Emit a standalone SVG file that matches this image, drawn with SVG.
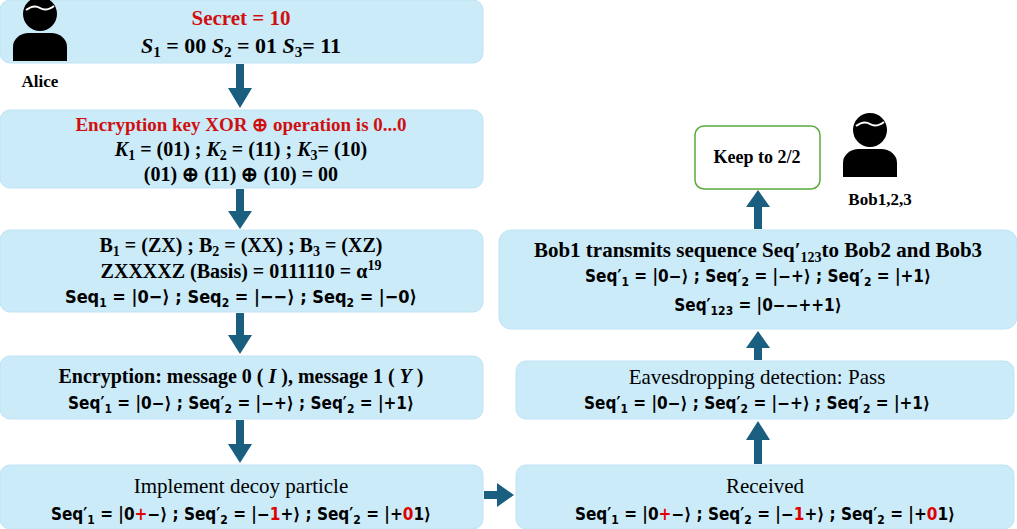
<svg xmlns="http://www.w3.org/2000/svg" width="1017" height="529" viewBox="0 0 1017 529">
<defs>
<style>
.box{fill:#cbebf9;stroke:#bfe3f4;stroke-width:1}
.t{font-family:"Liberation Serif",serif;font-weight:bold;fill:#000;text-anchor:middle}
.r{fill:#d01010}
.n{font-family:"Liberation Serif",serif;fill:#000;text-anchor:middle}
.red{fill:#e00000}
.ar{fill:#1a5e80}
.sq{font-family:"DejaVu Sans Condensed","DejaVu Sans",sans-serif;font-weight:bold;text-anchor:middle;fill:#000}
</style>
<g id="person">
<path d="M-17,-20 a17,17 0 1,1 34,0 a17,17 0 1,1 -34,0z" fill="#000"/>
<path d="M-14,-24 q8,-6 14,-2 q6,4 14,-2" stroke="#fff" stroke-width="2" fill="none"/>
<path d="M-27,27 v-14 a16,14 0 0,1 16,-14 h22 a16,14 0 0,1 16,14 v14z" fill="#000"/>
</g>
</defs>
<rect width="1017" height="529" fill="#fff"/>
<g id="connectors">
<rect class="ar" x="236" y="64" width="8" height="24"/><path class="ar" d="M228,88 h24 l-12,20z"/>
<rect class="ar" x="236" y="189" width="8" height="22"/><path class="ar" d="M228,211 h24 l-12,18z"/>
<rect class="ar" x="236" y="313" width="8" height="22"/><path class="ar" d="M228,335 h24 l-12,19z"/>
<rect class="ar" x="236" y="420" width="8" height="24"/><path class="ar" d="M228,444 h24 l-12,19z"/>
<rect class="ar" x="484" y="491" width="14" height="8"/><path class="ar" d="M497,483 v24 l17,-12z"/>
<rect class="ar" x="754" y="440" width="8" height="24"/><path class="ar" d="M746,440 h24 l-12,-19z"/>
<rect class="ar" x="754" y="348" width="8" height="12"/><path class="ar" d="M746,348 h24 l-12,-17z"/>
<rect class="ar" x="754" y="207" width="8" height="22"/><path class="ar" d="M746,207 h24 l-12,-17z"/>
</g>
<g id="n1"><rect class="box" x="0" y="0" width="483" height="63" rx="10"/>
<text class="t r" x="241" y="25" font-size="21">Secret = 10</text>
<text class="t" x="241" y="53" font-size="22"><tspan font-style="italic">S</tspan><tspan font-size="15" dy="4">1</tspan><tspan dy="-4"> = 00 </tspan><tspan font-style="italic">S</tspan><tspan font-size="15" dy="4">2</tspan><tspan dy="-4"> = 01  </tspan><tspan font-style="italic">S</tspan><tspan font-size="15" dy="4">3</tspan><tspan dy="-4">= 11</tspan></text></g>
<g id="alice"><use href="#person" x="40" y="34"/><text class="t" x="40" y="87" font-size="17">Alice</text></g>
<g id="bob"><use href="#person" x="870" y="150"/><text class="t" x="880" y="205" font-size="17">Bob1,2,3</text></g>
<g id="n2"><rect class="box" x="0" y="110" width="483" height="78" rx="10"/>
<text class="t r" x="241" y="131" font-size="19">Encryption key XOR ⊕ operation is 0...0</text>
<text class="t" x="241" y="156" font-size="20"><tspan font-style="italic">K</tspan><tspan font-size="14" dy="4">1</tspan><tspan dy="-4"> = (01) ;  </tspan><tspan font-style="italic">K</tspan><tspan font-size="14" dy="4">2</tspan><tspan dy="-4"> = (11) ;  </tspan><tspan font-style="italic">K</tspan><tspan font-size="14" dy="4">3</tspan><tspan dy="-4">= (10)</tspan></text>
<text class="t" x="241" y="181" font-size="20">(01) ⊕ (11) ⊕ (10) = 00</text></g>
<g id="n3"><rect class="box" x="0" y="230" width="483" height="82" rx="10"/>
<text class="t" x="241" y="252" font-size="20">B<tspan font-size="14" dy="4">1</tspan><tspan dy="-4"> = (ZX) ;  B</tspan><tspan font-size="14" dy="4">2</tspan><tspan dy="-4"> = (XX)  ;  B</tspan><tspan font-size="14" dy="4">3</tspan><tspan dy="-4"> = (XZ)</tspan></text>
<text class="t" x="241" y="278" font-size="20">ZXXXXZ (Basis) = 0111110 = α<tspan font-size="14" dy="-8">19</tspan></text>
<text class="sq" x="241" y="303" font-size="18">Seq<tspan font-size="12" dy="4">1</tspan><tspan dy="-4"> = |0−⟩ ; Seq</tspan><tspan font-size="12" dy="4">2</tspan><tspan dy="-4"> = |−−⟩ ; Seq</tspan><tspan font-size="12" dy="4">2</tspan><tspan dy="-4"> = |−0⟩</tspan></text></g>
<g id="n4"><rect class="box" x="0" y="356" width="483" height="63" rx="10"/>
<text class="t" x="241" y="383" font-size="20">Encryption: message 0 ( <tspan font-style="italic">I</tspan> ), message 1 ( <tspan font-style="italic">Y</tspan> )</text>
<text class="sq" x="241" y="409" font-size="17">Seq′<tspan font-size="12" dy="4">1</tspan><tspan dy="-4"> = |0−⟩ ; Seq′</tspan><tspan font-size="12" dy="4">2</tspan><tspan dy="-4"> = |−+⟩ ; Seq′</tspan><tspan font-size="12" dy="4">2</tspan><tspan dy="-4"> = |+1⟩</tspan></text></g>
<g id="n5"><rect class="box" x="0" y="465" width="483" height="64" rx="10"/>
<text class="n" x="241" y="493" font-size="21">Implement decoy particle</text>
<text class="sq" x="241" y="520" font-size="17">Seq′<tspan font-size="12" dy="4">1</tspan><tspan dy="-4"> = |0</tspan><tspan class="red">+</tspan>−⟩ ; Seq′<tspan font-size="12" dy="4">2</tspan><tspan dy="-4"> = |−</tspan><tspan class="red">1</tspan>+⟩ ; Seq′<tspan font-size="12" dy="4">2</tspan><tspan dy="-4"> = |+</tspan><tspan class="red">0</tspan>1⟩</text></g>
<g id="n6"><rect class="box" x="516" y="465" width="498" height="64" rx="10"/>
<text class="n" x="765" y="493" font-size="21">Received</text>
<text class="sq" x="765" y="520" font-size="17">Seq′<tspan font-size="12" dy="4">1</tspan><tspan dy="-4"> = |0</tspan><tspan class="red">+</tspan>−⟩ ; Seq′<tspan font-size="12" dy="4">2</tspan><tspan dy="-4"> = |−</tspan><tspan class="red">1</tspan>+⟩ ; Seq′<tspan font-size="12" dy="4">2</tspan><tspan dy="-4"> = |+</tspan><tspan class="red">0</tspan>1⟩</text></g>
<g id="n7"><rect class="box" x="516" y="361" width="498" height="58" rx="10"/>
<text class="n" x="757" y="384" font-size="21">Eavesdropping detection: Pass</text>
<text class="sq" x="757" y="409" font-size="17">Seq′<tspan font-size="12" dy="4">1</tspan><tspan dy="-4"> = |0−⟩ ; Seq′</tspan><tspan font-size="12" dy="4">2</tspan><tspan dy="-4"> = |−+⟩ ; Seq′</tspan><tspan font-size="12" dy="4">2</tspan><tspan dy="-4"> = |+1⟩</tspan></text></g>
<g id="n8"><rect class="box" x="499" y="230" width="518" height="99" rx="12"/>
<text class="t" x="758" y="257" font-size="21">Bob1 transmits sequence Seq′<tspan font-size="14" dy="5">123</tspan><tspan dy="-5">to Bob2 and Bob3</tspan></text>
<text class="sq" x="758" y="282" font-size="17" fill="#1c2a40">Seq′<tspan font-size="12" dy="4">1</tspan><tspan dy="-4"> = |0−⟩ ; Seq′</tspan><tspan font-size="12" dy="4">2</tspan><tspan dy="-4"> = |−+⟩ ; Seq′</tspan><tspan font-size="12" dy="4">2</tspan><tspan dy="-4"> = |+1⟩</tspan></text>
<text class="sq" x="758" y="311" font-size="17" fill="#1c2a40">Seq′<tspan font-size="12" dy="4">123</tspan><tspan dy="-4"> = |0−−++1⟩</tspan></text></g>
<g id="n9"><rect x="695" y="126" width="125" height="63" rx="9" fill="#fff" stroke="#5aab3c" stroke-width="1.5"/>
<text class="t" x="757" y="163" font-size="18" fill="#1c2a40">Keep to 2/2</text></g>
</svg>
